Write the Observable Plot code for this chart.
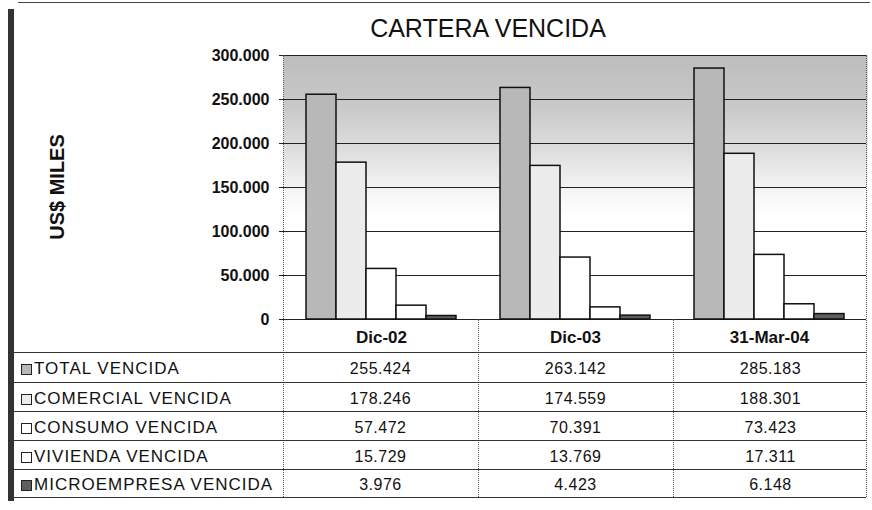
<!DOCTYPE html>
<html>
<head>
<meta charset="utf-8">
<script src="https://cdn.jsdelivr.net/npm/d3@7"></script>
<script src="https://cdn.jsdelivr.net/npm/@observablehq/plot@0.6"></script>
<style>
  body { margin: 0; background: #fff; }
  #wrap { position: relative; width: 872px; height: 510px; overflow: hidden;
          font-family: "Liberation Sans", Arial, sans-serif; color: #111; background: #fff; }
  #wrap svg { position: absolute; left: 0; top: 0; }
  .abs { position: absolute; }
  #title { left: 488px; top: 16px; transform: translateX(-50%); font-size: 25px; line-height: 25px; white-space: nowrap; }
  #ylab { left: -43px; top: 177px; width: 200px; text-align: center; font-size: 20px; line-height: 20px;
          font-weight: bold; transform: rotate(-90deg); white-space: nowrap; }
  .hline { height: 0; border-top: 1px solid #333; }
  .vline { width: 0; border-left: 1px dotted #555; }
  .rlab { font-size: 17px; letter-spacing: 1px; white-space: nowrap; line-height: 20px; }
  .val { font-size: 16px; letter-spacing: 0.5px; text-align: center; line-height: 20px; width: 195px; }
  .key { width: 9px; height: 9px; border: 1px solid #222; }
</style>
</head>
<body>
<div id="wrap"></div>
<script>
// ---- data ----
const categories = ["Dic-02", "Dic-03", "31-Mar-04"];
const series = ["TOTAL VENCIDA", "COMERCIAL VENCIDA", "CONSUMO VENCIDA", "VIVIENDA VENCIDA", "MICROEMPRESA VENCIDA"];
const totalVencida = [255424, 263142, 285183];
const comercialVencida = [178246, 174559, 188301];
const consumoVencida = [57472, 70391, 73423];
const viviendaVencida = [15729, 13769, 17311];
const microempresaVencida = [3976, 4423, 6148];
const yTicks = [0, 50000, 100000, 150000, 200000, 250000, 300000];
const title = "CARTERA VENCIDA";
const yLabel = "US$ MILES";

// ---- styles ----
const fills = ["#b8b8b8", "#ececec", "#ffffff", "#ffffff", "#5e5e5e"];

const values = [totalVencida, comercialVencida, consumoVencida, viviendaVencida, microempresaVencida];
const fmt = d3.formatLocale({decimal: ",", thousands: ".", grouping: [3]}).format(",d");
const data = categories.flatMap((c, i) => series.map((s, j) => ({cat: c, series: s, value: values[j][i]})));

const wrap = document.getElementById("wrap");

const chart = Plot.plot({
  width: 872, height: 352,
  marginTop: 55, marginBottom: 33, marginLeft: 283, marginRight: 6,
  style: {fontFamily: "Liberation Sans, Arial, sans-serif", background: "transparent", color: "#111", overflow: "visible"},
  fx: {domain: categories, padding: 0, label: null},
  x: {domain: series, paddingInner: 0, paddingOuter: 0.73, axis: null},
  y: {domain: [0, 300000], label: null},
  color: {domain: series, range: fills},
  marks: [
    Plot.frame({fill: "url(#bgGrad)", stroke: "none", insetLeft: -1, insetRight: -1}),
    Plot.ruleY(yTicks, {stroke: "#222", strokeWidth: 1}),
    Plot.axisY({ticks: yTicks, tickFormat: fmt, tickSize: 5, tickPadding: 10, label: null,
                fontSize: 16, fontWeight: "bold", stroke: "#222"}),
    Plot.axisFx({anchor: "bottom", tickSize: 0, tickPadding: 11, label: null, fontSize: 17, fontWeight: "bold"}),
    Plot.barY(data, {fx: "cat", x: "series", y: "value", fill: "series", stroke: "#111", strokeWidth: 1.5})
  ]
});

// gradient background of plot area
const defs = d3.select(chart).insert("defs", ":first-child");
const g = defs.append("linearGradient").attr("id", "bgGrad").attr("x1", 0).attr("y1", 0).attr("x2", 0).attr("y2", 1);
[[0, "#bdbdbd"], [0.2, "#c9c9c9"], [0.36, "#dedede"], [0.52, "#f6f6f6"], [0.62, "#ffffff"], [1, "#ffffff"]]
  .forEach(([o, c]) => g.append("stop").attr("offset", o).attr("stop-color", c));

wrap.appendChild(chart);

function add(cls, css, text) {
  const d = document.createElement("div");
  d.className = "abs " + cls;
  Object.assign(d.style, css);
  if (text != null) d.textContent = text;
  wrap.appendChild(d);
  return d;
}

// title and y label
add("", {}, title).id = "title";
add("", {}, yLabel).id = "ylab";

// scan frame decorations
add("", {left: "8px", top: "9px", width: "6px", height: "492px", background: "#333"});
add("", {left: "18px", top: "2px", width: "852px", height: "0", borderTop: "1px solid #444"});

// table geometry
const rowLines = [352, 382, 411, 440, 469, 497];
const colEdges = [283, 478, 673, 866];

// dotted verticals
add("vline", {left: "283px", top: "55px", height: (497 - 55) + "px"});
add("vline", {left: "866px", top: "55px", height: (497 - 55) + "px"});
add("vline", {left: "478px", top: "319px", height: (497 - 319) + "px"});
add("vline", {left: "673px", top: "319px", height: (497 - 319) + "px"});

rowLines.forEach(y => add("hline", {left: "14px", top: y + "px", width: "852px"}));

series.forEach((s, j) => {
  const yc = (rowLines[j] + rowLines[j + 1]) / 2 + 2;
  add("key", {left: "21px", top: (yc - 5) + "px", background: fills[j]});
  add("rlab", {left: "34px", top: (yc - 10) + "px"}, s);
  categories.forEach((c, i) => {
    add("val", {left: colEdges[i] + "px", top: (yc - 10) + "px"}, fmt(values[j][i]));
  });
});
</script>
</body>
</html>
